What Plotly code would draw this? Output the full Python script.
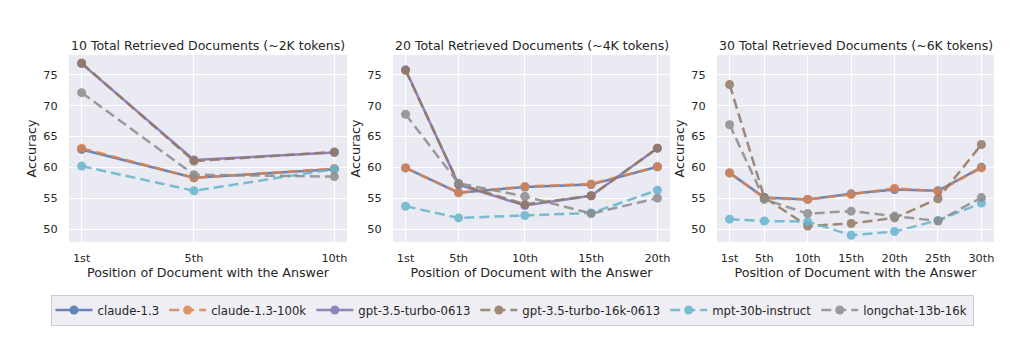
import plotly.graph_objects as go

# ---------------- data ----------------
models = ["claude-1.3", "claude-1.3-100k", "gpt-3.5-turbo-0613",
          "gpt-3.5-turbo-16k-0613", "mpt-30b-instruct", "longchat-13b-16k"]

pos_10 = [1, 5, 10]
pos_20 = [1, 5, 10, 15, 20]
pos_30 = [1, 5, 10, 15, 20, 25, 30]

ticks_10 = ["1st", "5th", "10th"]
ticks_20 = ["1st", "5th", "10th", "15th", "20th"]
ticks_30 = ["1st", "5th", "10th", "15th", "20th", "25th", "30th"]

# 10 documents
claude_13_10 = [62.9, 58.3, 59.7]
claude_100k_10 = [63.1, 58.3, 59.8]
gpt35_10 = [76.8, 61.2, 62.4]
gpt35_16k_10 = [76.9, 61.0, 62.5]
mpt_10 = [60.2, 56.2, 59.7]
longchat_10 = [72.1, 58.8, 58.5]

# 20 documents
claude_13_20 = [59.9, 55.9, 56.8, 57.2, 60.1]
claude_100k_20 = [59.9, 55.9, 56.9, 57.3, 60.1]
gpt35_20 = [75.8, 57.2, 53.8, 55.4, 63.1]
gpt35_16k_20 = [75.7, 57.3, 54.0, 55.4, 63.1]
mpt_20 = [53.7, 51.8, 52.2, 52.6, 56.3]
longchat_20 = [68.6, 57.4, 55.3, 52.5, 55.0]

# 30 documents (gpt-3.5-turbo-0613 not available)
claude_13_30 = [59.1, 55.1, 54.8, 55.7, 56.4, 56.2, 60.0]
claude_100k_30 = [59.1, 55.0, 54.8, 55.6, 56.6, 56.1, 59.9]
gpt35_16k_30 = [73.4, 55.1, 50.5, 50.9, 51.8, 54.9, 63.7]
mpt_30 = [51.6, 51.3, 51.2, 49.0, 49.6, 51.4, 54.2]
longchat_30 = [66.9, 54.8, 52.5, 52.9, 52.1, 51.3, 55.1]

titles = ["10 Total Retrieved Documents (~2K tokens)",
          "20 Total Retrieved Documents (~4K tokens)",
          "30 Total Retrieved Documents (~6K tokens)"]

# ---------------- style ----------------
colors = ["#4C72B0", "#DD8452", "#8172B3", "#937860", "#64B5CD", "#8C8C8C"]
dashes = ["solid", "10px,5px", "solid", "10px,5px", "10px,5px", "10px,5px"]

panels = [
    (pos_10, ticks_10, [claude_13_10, claude_100k_10, gpt35_10, gpt35_16k_10, mpt_10, longchat_10]),
    (pos_20, ticks_20, [claude_13_20, claude_100k_20, gpt35_20, gpt35_16k_20, mpt_20, longchat_20]),
    (pos_30, ticks_30, [claude_13_30, claude_100k_30, None, gpt35_16k_30, mpt_30, longchat_30]),
]

W, H = 1024, 359
x_domains = [(69, 347), (393, 670), (717, 994)]
y_top, y_bot = 55, 242

fig = go.Figure()
font_col = "#262626"

for p, (pos, tlabels, series) in enumerate(panels):
    ax = "" if p == 0 else str(p + 1)
    for m, vals in enumerate(series):
        if vals is None:
            continue
        fig.add_trace(go.Scatter(
            x=pos, y=vals, mode="lines+markers", name=models[m],
            legendgroup=models[m], showlegend=(p == 0),
            line=dict(color=colors[m], width=2.5, dash=dashes[m]),
            marker=dict(color=colors[m], size=9),
            opacity=0.85,
            xaxis="x" + ax, yaxis="y" + ax,
        ))
    span = pos[-1] - pos[0]
    d0, d1 = x_domains[p]
    fig.update_layout(**{
        "xaxis" + ax: dict(
            domain=[d0 / W, d1 / W], anchor="y" + ax,
            range=[pos[0] - 0.05 * span, pos[-1] + 0.05 * span],
            tickvals=pos, ticktext=tlabels,
            showgrid=True, gridcolor="white", gridwidth=1,
            zeroline=False, showline=False,
            ticks="outside", ticklen=5, tickcolor="rgba(0,0,0,0)",
            tickfont=dict(size=11.3, color=font_col),
            title=dict(text="Position of Document with the Answer",
                       font=dict(size=12.7, color=font_col), standoff=0),
        ),
        "yaxis" + ax: dict(
            domain=[1 - y_bot / H, 1 - y_top / H], anchor="x" + ax,
            range=[47.9, 78.2],
            tickvals=[50, 55, 60, 65, 70, 75],
            showgrid=True, gridcolor="white", gridwidth=1,
            zeroline=False, showline=False,
            ticks="outside", ticklen=8, tickcolor="rgba(0,0,0,0)",
            tickfont=dict(size=11.3, color=font_col),
            title=dict(text="Accuracy", font=dict(size=12.7, color=font_col), standoff=3),
        ),
    })
    fig.add_annotation(
        text=titles[p], x=(d0 + d1) / 2 / W, y=1 - 45.5 / H,
        xref="paper", yref="paper", showarrow=False,
        xanchor="center", yanchor="middle",
        font=dict(size=12.5, color=font_col),
    )

fig.update_layout(
    width=W, height=H,
    margin=dict(l=0, r=0, t=0, b=0),
    paper_bgcolor="white",
    plot_bgcolor="#EAEAF2",
    font=dict(family="DejaVu Sans", size=12, color=font_col),
    legend=dict(
        orientation="h", x=0.5, xanchor="center",
        y=1 - 310 / H, yanchor="middle",
        bgcolor="#EEEEF4", bordercolor="#CCCCCC", borderwidth=1,
        font=dict(size=11.7, color=font_col),
        itemwidth=37, tracegroupgap=0,
    ),
)

fig.write_html(
    "out.html",
    config={"displayModeBar": False},
    post_script="document.body.style.margin='0';document.body.style.padding='0';",
)
